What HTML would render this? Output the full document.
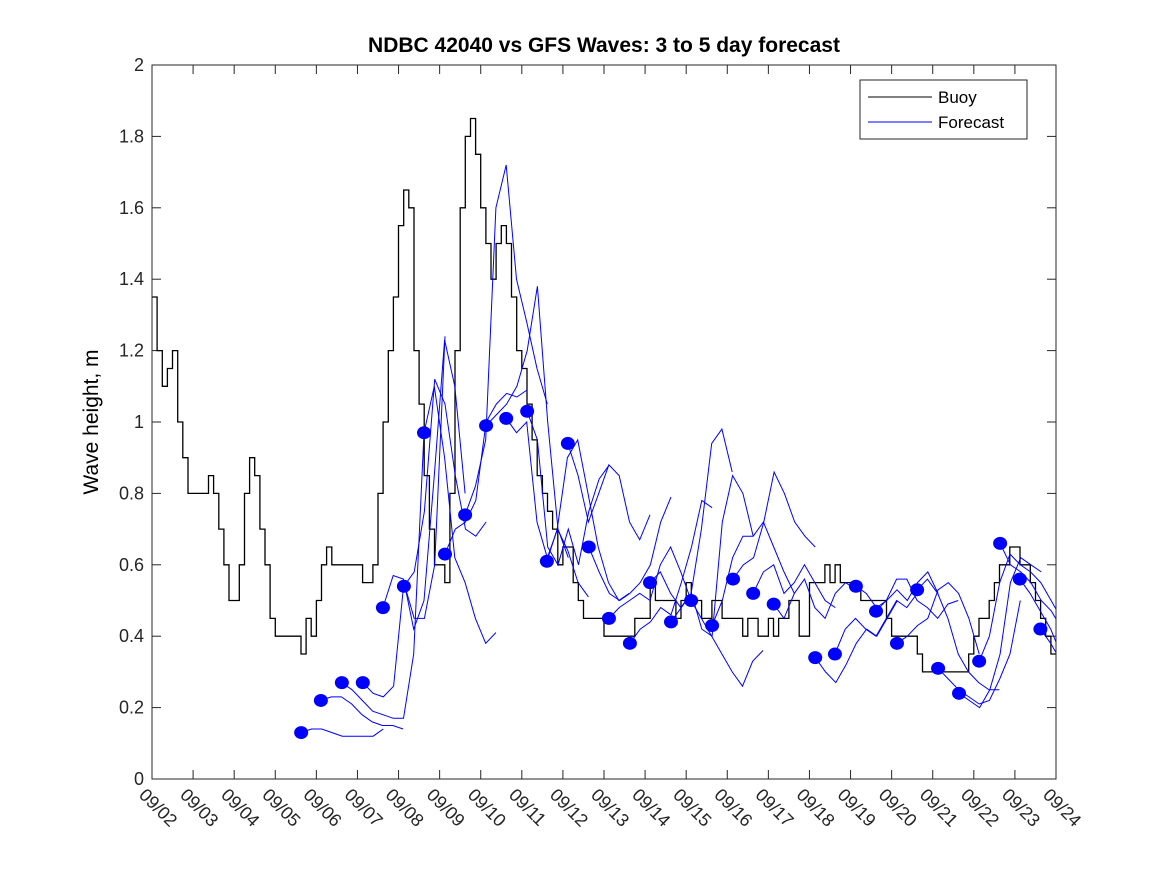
<!DOCTYPE html>
<html><head><meta charset="utf-8"><style>
body{margin:0;background:#fff;}
svg{display:block;font-family:"Liberation Sans","DejaVu Sans",sans-serif;}
</style></head><body>
<svg id="chart" width="1167" height="875" viewBox="0 0 1167 875" xmlns="http://www.w3.org/2000/svg">
<defs><clipPath id="plotclip"><rect x="152" y="65" width="904" height="714"/></clipPath></defs>
<rect x="0" y="0" width="1167" height="875" fill="#fff"/>
<text x="604" y="52" text-anchor="middle" font-size="21" font-weight="bold">NDBC 42040 vs GFS Waves: 3 to 5 day forecast</text>
<text transform="translate(98,422) rotate(-90)" text-anchor="middle" font-size="21">Wave height, m</text>
<g id="grid"></g>
<g id="series" clip-path="url(#plotclip)"></g>
<rect x="152" y="65" width="904" height="714" fill="none" stroke="#262626" stroke-width="1"/>
<g>
<rect x="860" y="80" width="167" height="59" fill="#fff" stroke="#262626"/>
<line x1="868" y1="97" x2="932" y2="97" stroke="#000"/>
<text x="938" y="103" font-size="17">Buoy</text>
<line x1="868" y1="122" x2="932" y2="122" stroke="#00f"/>
<text x="938" y="128" font-size="17">Forecast</text>
</g>
</svg>
<script>
const xTickLabels=["09/02","09/03","09/04","09/05","09/06","09/07","09/08","09/09","09/10","09/11","09/12","09/13","09/14","09/15","09/16","09/17","09/18","09/19","09/20","09/21","09/22","09/23","09/24"];
const yTicks=[0,0.2,0.4,0.6,0.8,1,1.2,1.4,1.6,1.8,2];
const yTickLabels=["0","0.2","0.4","0.6","0.8","1","1.2","1.4","1.6","1.8","2"];
// buoy: 3-hourly values starting 09/02 00Z
const buoyValues=[
1.35,1.2,1.1,1.15,1.2,1.0,0.9,0.8,
0.8,0.8,0.8,0.85,0.8,0.7,0.6,0.5,
0.5,0.6,0.8,0.9,0.85,0.7,0.6,0.45,
0.4,0.4,0.4,0.4,0.4,0.35,0.45,0.4,
0.5,0.6,0.65,0.6,0.6,0.6,0.6,0.6,
0.6,0.55,0.55,0.6,0.8,1.0,1.2,1.35,
1.55,1.65,1.6,1.2,1.05,0.85,0.7,0.6,
0.6,0.55,0.8,1.2,1.6,1.8,1.85,1.75,
1.6,1.5,1.4,1.5,1.55,1.5,1.35,1.2,
1.15,1.05,0.95,0.85,0.8,0.75,0.7,0.6,
0.65,0.65,0.55,0.5,0.45,0.45,0.45,0.45,
0.4,0.4,0.4,0.4,0.4,0.4,0.45,0.45,
0.45,0.55,0.5,0.5,0.5,0.5,0.45,0.5,
0.55,0.5,0.5,0.45,0.45,0.5,0.5,0.45,
0.45,0.45,0.45,0.4,0.45,0.45,0.4,0.4,
0.45,0.4,0.45,0.45,0.5,0.5,0.4,0.4,
0.55,0.55,0.55,0.6,0.55,0.6,0.55,0.55,
0.55,0.55,0.5,0.5,0.5,0.5,0.5,0.45,
0.4,0.4,0.4,0.4,0.4,0.35,0.3,0.3,
0.3,0.3,0.3,0.3,0.3,0.3,0.3,0.35,
0.4,0.45,0.45,0.5,0.55,0.6,0.6,0.65,
0.65,0.6,0.6,0.55,0.5,0.45,0.4,0.35];
const buoyStepDays=0.125;
// forecast start days (days since 09/02) and 6-hourly values
const forecastStarts=[3.63,4.11,4.62,5.13,5.62,6.13,6.62,7.13,7.62,8.13,8.62,9.13,9.61,10.12,10.63,11.12,11.63,12.12,12.63,13.12,13.63,14.14,14.63,15.13,16.14,16.62,17.13,17.62,18.13,18.62,19.13,19.64,20.13,20.64,21.12,21.62];
const forecastDots=[0.13,0.22,0.27,0.27,0.48,0.54,0.97,0.63,0.74,0.99,1.01,1.03,0.61,0.94,0.65,0.45,0.38,0.55,0.44,0.50,0.43,0.56,0.52,0.49,0.34,0.35,0.54,0.47,0.38,0.53,0.31,0.24,0.33,0.66,0.56,0.42];
const forecastValues=[
[.13,.14,.14,.13,.12,.12,.12,.12,.14],
[.22,.23,.23,.21,.18,.16,.15,.15,.14],
[.27,.25,.22,.19,.18,.17,.17,.35,.97],
[.27,.24,.23,.26,.55,.45,.45,.60,1.24],
[.48,.57,.56,.42,.50,.85,1.23,1.10,.80],
[.54,.58,.75,1.12,1.05,.85,.70,.68,.72],
[.97,1.10,.90,.62,.55,.45,.38,.41],
[.63,.70,.72,.78,1.00,1.05,1.08,1.07,1.09],
[.74,.82,.95,1.60,1.72,1.40,1.28,1.15,1.05],
[.99,1.02,1.05,1.10,1.20,1.38,1.00,.70,.62],
[1.01,.97,1.00,.72,.62,.70,.64,.55,.51],
[1.03,.95,.65,.60,.70,.60,.75,.84,.88],
[.61,.70,.90,.95,.80,.65,.55,.50,.52],
[.94,.85,.72,.80,.88,.85,.72,.67,.74],
[.65,.58,.52,.50,.52,.55,.60,.72,.79],
[.45,.48,.50,.52,.50,.60,.65,.58,.50],
[.38,.42,.44,.48,.46,.55,.65,.78,.76],
[.55,.58,.52,.48,.52,.70,.94,.98,.86],
[.44,.48,.52,.42,.40,.72,.85,.80,.68],
[.50,.45,.40,.35,.30,.26,.33,.36],
[.43,.50,.62,.68,.68,.72,.65,.58,.52],
[.56,.60,.62,.72,.86,.80,.72,.68,.65],
[.52,.58,.60,.52,.55,.60,.55,.50,.48],
[.49,.45,.52,.56,.48,.45,.52,.55,.53],
[.34,.30,.27,.32,.38,.42,.40,.45,.50],
[.35,.42,.45,.42,.40,.45,.50,.48,.52],
[.54,.52,.48,.50,.53,.50,.55,.58,.52],
[.47,.50,.56,.56,.50,.48,.45,.49,.50],
[.38,.40,.43,.45,.53,.55,.52,.45,.35],
[.53,.56,.52,.45,.35,.30,.27,.25,.25],
[.31,.28,.25,.23,.21,.22,.28,.35,.50],
[.24,.22,.20,.25,.35,.55,.62,.60,.58],
[.33,.40,.55,.63,.60,.58,.55,.50,.45],
[.66,.60,.58,.55,.50,.47,.42,.38,.33],
[.56,.52,.47,.42,.35,.31],
[.42,.38,.33]];
const forecastStepDays=0.25;

const NS="http://www.w3.org/2000/svg";
const X0=152,X1=1056,Y0=779,Y1=65,DAYS=22,YMAX=2;
function xScale(d){return X0+(d/DAYS)*(X1-X0);}
function yScale(v){return Y0-(v/YMAX)*(Y0-Y1);}
function mk(tag,attrs,parent){const e=document.createElementNS(NS,tag);for(const k in attrs)e.setAttribute(k,attrs[k]);parent.appendChild(e);return e;}
const grid=document.getElementById('grid');
const series=document.getElementById('series');
xTickLabels.forEach((lab,i)=>{
  const x=xScale(i);
  const t1=mk('line',{x1:x,y1:Y0,x2:x,y2:Y0-9,stroke:'#262626'},grid);
  
  
  const t2=mk('line',{x1:x,y1:Y1,x2:x,y2:Y1+9,stroke:'#262626'},grid);
  
  
  const tx=mk('text',{transform:`translate(${x-14},${Y0+17}) rotate(45)`,'font-size':18,fill:'#262626'},grid);
  tx.textContent=lab;
  
  
});
yTicks.forEach((v,i)=>{
  const y=yScale(v);
  const t1=mk('line',{x1:X0,y1:y,x2:X0+9,y2:y,stroke:'#262626'},grid);
  
  
  const t2=mk('line',{x1:X1,y1:y,x2:X1-9,y2:y,stroke:'#262626'},grid);
  
  
  const tx=mk('text',{x:X0-8,y:y+6,'text-anchor':'end','font-size':18,fill:'#262626'},grid);
  tx.textContent=yTickLabels[i];
  
  
});
let d='';
buoyValues.forEach((v,i)=>{
  const xa=xScale(i*buoyStepDays),xb=xScale((i+1)*buoyStepDays),y=yScale(v);
  d+=(i===0?'M':'L')+xa.toFixed(1)+','+y.toFixed(1)+'L'+xb.toFixed(1)+','+y.toFixed(1);
});
const bp=mk('path',{d:d,fill:'none',stroke:'#000','stroke-width':1.3},series);


forecastValues.forEach((arr,k)=>{
  const pts=arr.map((v,j)=>xScale(forecastStarts[k]+j*forecastStepDays).toFixed(1)+','+yScale(v).toFixed(1)).join(' ');
  const pl=mk('polyline',{points:pts,fill:'none',stroke:'#00f','stroke-width':1},series);
  
  
});
forecastDots.forEach((v,k)=>{
  const c=mk('ellipse',{cx:xScale(forecastStarts[k]),cy:yScale(v),rx:7,ry:6.5,fill:'#00f'},series);
  
  
});
</script>
</body></html>
